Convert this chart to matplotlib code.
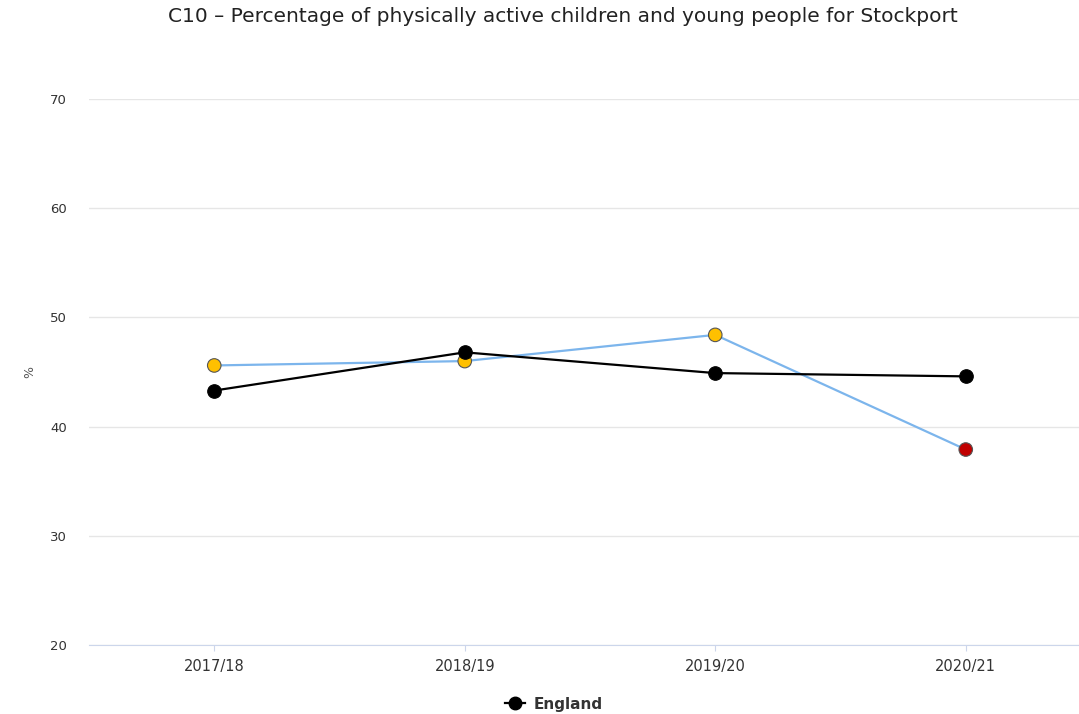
import matplotlib
matplotlib.use("Agg")
import matplotlib.pyplot as plt
from matplotlib.lines import Line2D

# Data
years = ["2017/18", "2018/19", "2019/20", "2020/21"]
stockport = [45.6, 46.0, 48.4, 37.9]
stockport_colors = ["#ffc000", "#ffc000", "#ffc000", "#c00000"]
england = [43.3, 46.8, 44.9, 44.6]
y_ticks = [20, 30, 40, 50, 60, 70]

fig = plt.figure(figsize=(10.79, 7.14), dpi=100)
ax = fig.add_axes([89 / 1079, 1 - 645 / 714, 1002 / 1079, 546 / 714])

x = list(range(len(years)))

# Stockport line (blue) with RAG-coloured markers
ax.plot(x, stockport, color="#7cb5ec", linewidth=1.6, zorder=3)
ax.scatter(x, stockport, s=95, c=stockport_colors, edgecolors="#555555",
           linewidths=0.8, zorder=4)

# England line
ax.plot(x, england, color="black", linewidth=1.6, zorder=3)
ax.scatter(x, england, s=95, c="black", edgecolors="black", linewidths=0.8, zorder=5)

ax.set_xlim(-0.5, 3.5)
ax.set_ylim(20, 70)
ax.set_xticks(x)
ax.set_xticklabels(years)
ax.set_yticks(y_ticks)

ax.grid(axis="y", color="#e6e6e6", linewidth=1)
ax.set_axisbelow(True)
for side in ["top", "right", "left"]:
    ax.spines[side].set_visible(False)
ax.spines["bottom"].set_color("#ccd6eb")
ax.tick_params(axis="y", length=0, pad=16, labelsize=9.5, labelcolor="#333333")
ax.tick_params(axis="x", length=4, color="#ccd6eb", pad=6, labelsize=10.5, labelcolor="#333333")

ax.set_ylabel("%", fontsize=9, color="#555555", labelpad=10)

fig.text(563 / 1079, 1 - 17 / 714, "C10 \u2013 Percentage of physically active children and young people for Stockport",
         ha="center", va="center", fontsize=14.5, color="#222222")

handle = Line2D([0], [0], color="black", linewidth=1.6, marker="o", markersize=9)
fig.legend(handles=[handle], labels=["England"], loc="center",
           bbox_to_anchor=(554 / 1079, 1 - 704 / 714), frameon=False,
           prop={"weight": "bold", "size": 11}, handlelength=1.3, handletextpad=0.6,
           labelcolor="#333333")

fig.savefig("out.png", dpi=100)
